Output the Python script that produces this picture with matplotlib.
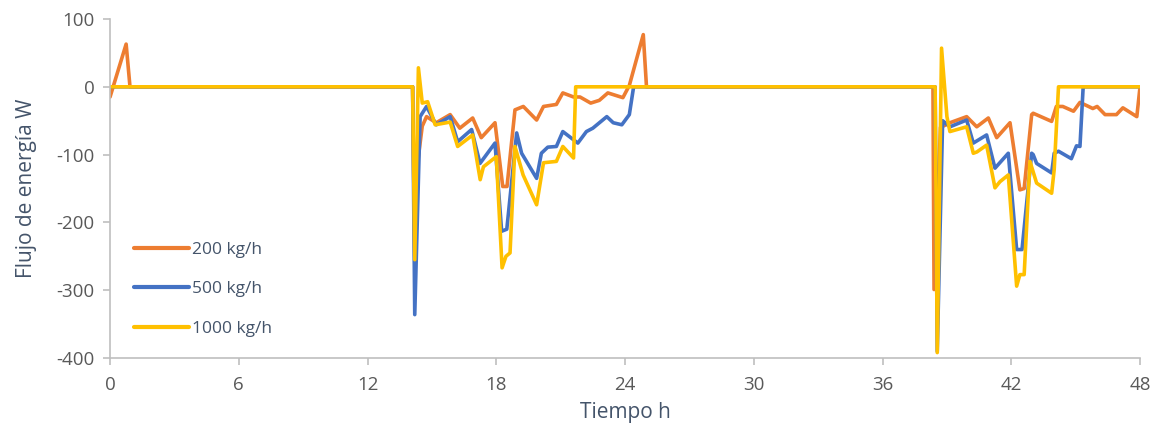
import matplotlib
matplotlib.use("Agg")
import matplotlib.pyplot as plt

# time (h) / energy flow (W)
t_200 = [0, 0.75, 0.93, 14.1, 14.2, 14.35, 14.55, 14.75, 15.2, 15.85, 16.3, 16.9, 17.3, 17.94,
         18.3, 18.5, 18.87, 19.26, 19.88, 20.2, 20.8, 21.1, 21.6, 21.9, 22.4, 22.8, 23.2, 23.9,
         24.2, 24.85, 25.0, 38.35, 38.4, 38.7, 39.14, 39.92, 40.39, 40.93, 41.32, 41.94, 42.4,
         42.6, 42.95, 43.02, 43.88, 44.1, 44.4, 44.9, 45.2, 45.8, 46.0, 46.37, 46.9, 47.2, 47.85, 48.0]
v_200 = [-15, 63, 0, 0, -250, -108, -58, -44, -53, -41, -61, -46, -75, -53,
         -147, -147, -34, -29, -49, -29, -26, -9, -15, -15, -24, -20, -9, -16,
         2, 77, 0, 0, -299, -60, -53, -44, -59, -46, -75, -53, -152,
         -150, -41, -39, -51, -29, -29, -36, -23, -32, -29, -41, -41, -31, -44, 0]

t_500 = [0, 14.1, 14.2, 14.45, 14.75, 15.2, 15.85, 16.2, 16.85, 17.24, 17.94, 18.25, 18.49,
         18.95, 19.18, 19.88, 20.1, 20.4, 20.8, 21.1, 21.8, 22.2, 22.5, 23.15, 23.45, 23.85,
         24.2, 24.4, 38.45, 38.55, 38.8, 39.14, 39.92, 40.23, 40.85, 41.24, 41.86, 42.25, 42.5,
         42.95, 43.02, 43.18, 43.88, 44.0, 44.2, 44.8, 45.04, 45.2, 45.35, 48.0]
v_500 = [0, 0, -336, -44, -29, -56, -44, -81, -63, -113, -83, -213, -210,
         -68, -98, -135, -98, -89, -88, -66, -83, -66, -61, -44, -53, -56,
         -41, 0, 0, -390, -50, -59, -49, -83, -71, -120, -98, -240, -240,
         -98, -100, -113, -127, -98, -95, -106, -87, -88, 0, 0]

t_1000 = [0, 14.1, 14.2, 14.37, 14.55, 14.8, 15.15, 15.85, 16.2, 16.9, 17.25, 17.4, 18.0,
          18.27, 18.45, 18.64, 18.87, 19.25, 19.88, 20.2, 20.8, 21.1, 21.6, 21.7, 38.45,
          38.55, 38.75, 39.0, 39.14, 39.92, 40.23, 40.4, 40.85, 41.24, 41.47, 41.86, 42.25,
          42.4, 42.6, 42.87, 43.18, 43.88, 44.0, 44.2, 48.0]
v_1000 = [0, 0, -255, 28, -24, -22, -56, -52, -88, -71, -137, -118, -103,
          -267, -250, -245, -88, -130, -174, -112, -110, -88, -105, 0, 0,
          -392, 57, -44, -66, -59, -98, -96, -86, -149, -140, -130, -294,
          -277, -277, -110, -142, -157, -122, 0, 0]

series = [
    ("200 kg/h", t_200, v_200, "#ED7D31"),
    ("500 kg/h", t_500, v_500, "#4472C4"),
    ("1000 kg/h", t_1000, v_1000, "#FFC000"),
]

plt.rcParams['font.family'] = ['Open Sans', 'DejaVu Sans']
plt.rcParams['axes.unicode_minus'] = False

fig = plt.figure(figsize=(11.62, 4.42), dpi=100)
ax = fig.add_axes([0.0947, 0.19, 0.8864, 0.767])

for label, t, v, color in series:
    ax.plot(t, v, color=color, lw=2.6, label=label,
            solid_joinstyle='round', solid_capstyle='round')

ax.set_xlim(0, 48)
ax.set_ylim(-400, 100)
ax.set_xticks(range(0, 49, 6))
ax.set_yticks(range(-400, 101, 100))

for side in ['top', 'right']:
    ax.spines[side].set_visible(False)
for side in ['left', 'bottom']:
    ax.spines[side].set_color('#BFBFBF')
    ax.spines[side].set_linewidth(1.2)
ax.tick_params(axis='both', colors='#BFBFBF', labelcolor='#595959', labelsize=13.5,
               length=5, width=1.2)
ax.tick_params(axis='y', pad=6)
ax.tick_params(axis='x', pad=8)

ax.set_xlabel("Tiempo h", fontsize=15, color='#44546A', labelpad=6)
ax.set_ylabel("Flujo de energía W", fontsize=15, color='#44546A', labelpad=14)

leg = ax.legend(loc='upper left', bbox_to_anchor=(0.008, 0.39), frameon=False,
                fontsize=12.5, handlelength=3.2, handletextpad=0.15, labelspacing=1.35,
                labelcolor='#44546A')
for line in leg.get_lines():
    line.set_linewidth(3)

fig.savefig("out.png", dpi=100)
